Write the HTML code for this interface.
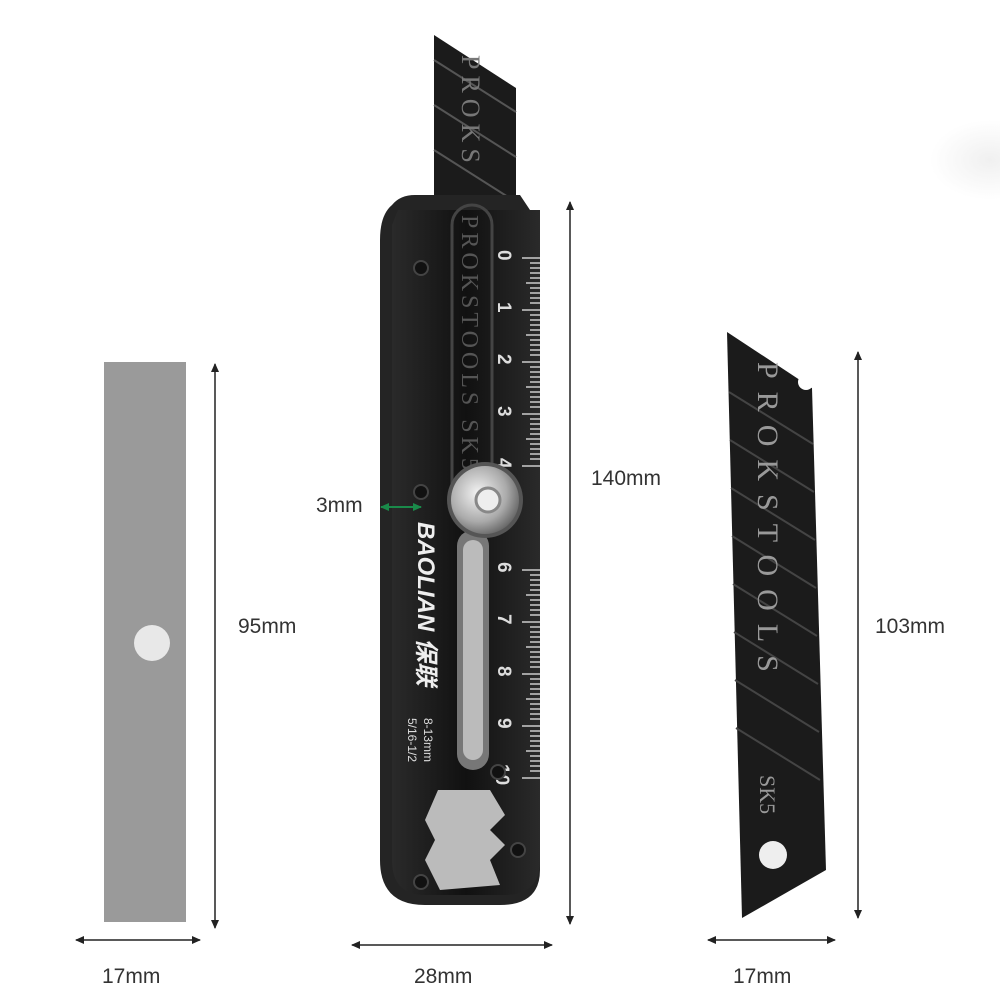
<!DOCTYPE html>
<html><head><style>
html,body{margin:0;padding:0;background:#fff;width:1000px;height:1000px;overflow:hidden}
svg{display:block}
text{font-family:"Liberation Sans","Noto Sans CJK SC",sans-serif}
text.sf{font-family:"Liberation Serif",serif}
</style></head><body>
<svg width="1000" height="1000" viewBox="0 0 1000 1000" xmlns="http://www.w3.org/2000/svg">
<defs>
<marker id="a" markerWidth="10" markerHeight="10" refX="8" refY="5" orient="auto-start-reverse" markerUnits="userSpaceOnUse"><path d="M0,1 L9,5 L0,9 Z" fill="#222"/></marker>
<marker id="g" markerWidth="10" markerHeight="10" refX="8" refY="5" orient="auto-start-reverse" markerUnits="userSpaceOnUse"><path d="M0,1 L9,5 L0,9 Z" fill="#1a8a4a"/></marker>
<radialGradient id="kn" cx="0.4" cy="0.4" r="0.7"><stop offset="0" stop-color="#f4f4f4"/><stop offset="0.6" stop-color="#aaa"/><stop offset="1" stop-color="#555"/></radialGradient>
<linearGradient id="bl" x1="0" x2="1"><stop offset="0" stop-color="#2a2a2a"/><stop offset="0.5" stop-color="#111"/><stop offset="1" stop-color="#2a2a2a"/></linearGradient>
<radialGradient id="blob"><stop offset="0" stop-color="#f0f0f0"/><stop offset="1" stop-color="#fff"/></radialGradient>
</defs>
<ellipse cx="990" cy="160" rx="60" ry="40" fill="url(#blob)"/>

<rect x="104" y="362" width="82" height="560" fill="#9a9a9a"/>
<circle cx="152" cy="643" r="18" fill="#e8e8e8"/>
<line x1="215" y1="364" x2="215" y2="928" stroke="#222" stroke-width="1.5" marker-start="url(#a)" marker-end="url(#a)"/>
<text x="238" y="633" font-size="21" fill="#333">95mm</text>
<line x1="76" y1="940" x2="200" y2="940" stroke="#222" stroke-width="1.5" marker-start="url(#a)" marker-end="url(#a)"/>
<text x="102" y="983" font-size="21" fill="#333">17mm</text>

<polygon points="434,35 516,88 516,230 434,230" fill="#1b1b1b"/>
<g stroke="#555" stroke-width="2">
<line x1="434" y1="60" x2="516" y2="112"/><line x1="434" y1="105" x2="516" y2="157"/><line x1="434" y1="150" x2="516" y2="202"/>
</g>
<text class="sf" transform="translate(462,55) rotate(90)" font-size="26" fill="#777" letter-spacing="6">PROKS</text>
<path d="M392,205 Q400,195 415,195 L520,195 L540,225 L540,870 Q540,905 500,905 L425,905 Q380,905 380,860 L380,240 Q380,215 392,205 Z" fill="#242424"/>
<path d="M398,210 L540,210 L540,860 Q540,895 505,895 L425,895 Q392,895 392,860 L392,225 Z" fill="url(#bl)"/>
<rect x="452" y="205" width="40" height="320" rx="20" fill="none" stroke="#444" stroke-width="3"/>
<text class="sf" transform="translate(462,215) rotate(90)" font-size="24" fill="#555" letter-spacing="4">PROKSTOOLS SK5</text>
<g fill="#ddd" font-size="19" font-weight="bold">
<text transform="translate(498,250) rotate(90)">0</text>
<text transform="translate(498,302) rotate(90)">1</text>
<text transform="translate(498,354) rotate(90)">2</text>
<text transform="translate(498,406) rotate(90)">3</text>
<text transform="translate(498,458) rotate(90)">4</text>
<text transform="translate(498,562) rotate(90)">6</text>
<text transform="translate(498,614) rotate(90)">7</text>
<text transform="translate(498,666) rotate(90)">8</text>
<text transform="translate(498,718) rotate(90)">9</text>
<text transform="translate(496,764) rotate(90)">10</text>
</g>
<g stroke="#ccc" stroke-width="1.5">
<path d="M522,258 H540 M530,263 H540 M530,268 H540 M530,273 H540 M530,278 H540 M526,283 H540 M530,288 H540 M530,293 H540 M530,298 H540 M530,303 H540 M522,310 H540 M530,315 H540 M530,320 H540 M530,325 H540 M530,330 H540 M526,335 H540 M530,340 H540 M530,345 H540 M530,350 H540 M530,355 H540 M522,362 H540 M530,367 H540 M530,372 H540 M530,377 H540 M530,382 H540 M526,387 H540 M530,392 H540 M530,397 H540 M530,402 H540 M530,407 H540 M522,414 H540 M530,419 H540 M530,424 H540 M530,429 H540 M530,434 H540 M526,439 H540 M530,444 H540 M530,449 H540 M530,454 H540 M530,459 H540 M522,466 H540"/>
<path transform="translate(0,312)" d="M522,258 H540 M530,263 H540 M530,268 H540 M530,273 H540 M530,278 H540 M526,283 H540 M530,288 H540 M530,293 H540 M530,298 H540 M530,303 H540 M522,310 H540 M530,315 H540 M530,320 H540 M530,325 H540 M530,330 H540 M526,335 H540 M530,340 H540 M530,345 H540 M530,350 H540 M530,355 H540 M522,362 H540 M530,367 H540 M530,372 H540 M530,377 H540 M530,382 H540 M526,387 H540 M530,392 H540 M530,397 H540 M530,402 H540 M530,407 H540 M522,414 H540 M530,419 H540 M530,424 H540 M530,429 H540 M530,434 H540 M526,439 H540 M530,444 H540 M530,449 H540 M530,454 H540 M530,459 H540 M522,466 H540"/>
</g>
<rect x="457" y="530" width="32" height="240" rx="16" fill="#777"/>
<rect x="463" y="540" width="20" height="220" rx="10" fill="#bbb"/>
<circle cx="485" cy="500" r="38" fill="#555"/>
<circle cx="485" cy="500" r="34" fill="url(#kn)"/>
<circle cx="488" cy="500" r="12" fill="#eee" stroke="#888" stroke-width="3"/>
<text transform="translate(418,522) rotate(90)" font-size="24" font-weight="bold" font-style="italic" fill="#eee">BAOLIAN 保联</text>
<text transform="translate(424,718) rotate(90)" font-size="12" fill="#ddd">8-13mm</text>
<text transform="translate(408,718) rotate(90)" font-size="12" fill="#ddd">5/16-1/2</text>
<g fill="#111" stroke="#444" stroke-width="2">
<circle cx="421" cy="268" r="7"/><circle cx="421" cy="492" r="7"/><circle cx="421" cy="882" r="7"/><circle cx="518" cy="850" r="7"/><circle cx="498" cy="772" r="7"/>
</g>
<path d="M438,790 L490,790 L505,815 L490,830 L505,845 L490,860 L500,885 L440,890 L425,860 L435,840 L425,820 Z" fill="#bbb"/>
<line x1="570" y1="202" x2="570" y2="924" stroke="#222" stroke-width="1.5" marker-start="url(#a)" marker-end="url(#a)"/>
<text x="591" y="485" font-size="21" fill="#333">140mm</text>
<line x1="352" y1="945" x2="552" y2="945" stroke="#222" stroke-width="1.5" marker-start="url(#a)" marker-end="url(#a)"/>
<text x="414" y="983" font-size="21" fill="#333">28mm</text>
<text x="316" y="512" font-size="21" fill="#333">3mm</text>
<line x1="381" y1="507" x2="421" y2="507" stroke="#1a8a4a" stroke-width="2" marker-start="url(#g)" marker-end="url(#g)"/>

<polygon points="727,332 812,388 826,870 742,918" fill="#1b1b1b"/>
<circle cx="806" cy="382" r="8" fill="#fff"/>
<g stroke="#444" stroke-width="2">
<line x1="729" y1="392" x2="813" y2="444"/><line x1="730" y1="440" x2="814" y2="492"/><line x1="731" y1="488" x2="815" y2="540"/><line x1="732" y1="536" x2="816" y2="588"/><line x1="733" y1="584" x2="817" y2="636"/><line x1="734" y1="632" x2="818" y2="684"/><line x1="735" y1="680" x2="819" y2="732"/><line x1="736" y1="728" x2="820" y2="780"/>
</g>
<text class="sf" transform="translate(758,362) rotate(90)" font-size="30" fill="#999" letter-spacing="13">PROKSTOOLS</text>
<text class="sf" transform="translate(760,775) rotate(90)" font-size="22" fill="#999">SK5</text>
<circle cx="773" cy="855" r="14" fill="#eee"/>
<line x1="858" y1="352" x2="858" y2="918" stroke="#222" stroke-width="1.5" marker-start="url(#a)" marker-end="url(#a)"/>
<text x="875" y="633" font-size="21" fill="#333">103mm</text>
<line x1="708" y1="940" x2="835" y2="940" stroke="#222" stroke-width="1.5" marker-start="url(#a)" marker-end="url(#a)"/>
<text x="733" y="983" font-size="21" fill="#333">17mm</text>
</svg>
</body></html>
